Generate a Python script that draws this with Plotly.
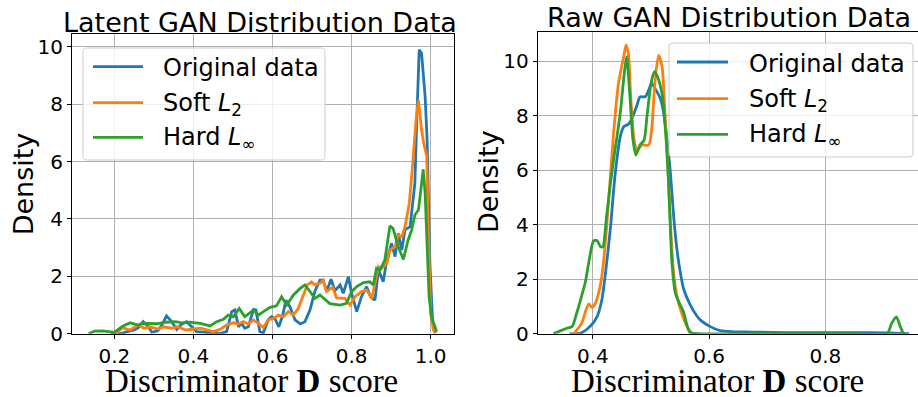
import plotly.graph_objects as go

# ---- Latent GAN distribution: KDE of discriminator scores ----
latent_orig_x = [0.19, 0.22, 0.24, 0.25, 0.26, 0.273, 0.286, 0.295, 0.31, 0.32, 0.332, 0.345, 0.358,
                 0.37, 0.383, 0.396, 0.408, 0.42, 0.434, 0.45, 0.467, 0.484, 0.497, 0.505, 0.514,
                 0.522, 0.53, 0.539, 0.552, 0.558, 0.568, 0.577, 0.589, 0.598, 0.606, 0.616, 0.626,
                 0.634, 0.644, 0.657, 0.67, 0.682, 0.695, 0.707, 0.72, 0.728, 0.737, 0.748, 0.758,
                 0.771, 0.779, 0.792, 0.8, 0.813, 0.825, 0.838, 0.848, 0.859, 0.868, 0.88, 0.889,
                 0.901, 0.91, 0.918, 0.927, 0.935, 0.948, 0.955, 0.96, 0.965, 0.971, 0.977, 0.986,
                 0.991, 0.998, 1.005, 1.012]
latent_orig_y = [0.0, 0.02, 0.1, 0.13, 0.2, 0.42, 0.24, 0.05, 0.1, 0.3, 0.62, 0.42, 0.15,
                 0.33, 0.42, 0.24, 0.07, 0.06, 0.03, 0.02, 0.0, 0.07, 0.77, 0.83, 0.24,
                 0.36, 0.19, 0.24, 0.85, 0.83, 0.07, 0.03, 0.48, 0.59, 0.53, 0.24, 0.65,
                 1.17, 0.94, 0.48, 0.34, 0.42, 0.83, 1.47, 1.87, 1.87, 1.47, 1.9, 1.5,
                 1.7, 1.41, 1.99, 1.41, 0.77, 1.29, 1.64, 1.29, 1.17, 2.22, 1.81, 2.57,
                 3.15, 2.69, 3.5, 2.92, 3.62, 3.73, 4.5, 5.24, 7.5, 9.9, 9.78, 8.27,
                 6.76, 2.46, 0.38, 0.03]

latent_soft_x = [0.205, 0.22, 0.24, 0.26, 0.275, 0.29, 0.31, 0.325, 0.345, 0.36, 0.38, 0.395, 0.417,
                 0.434, 0.45, 0.467, 0.484, 0.501, 0.514, 0.526, 0.539, 0.552, 0.564, 0.577, 0.589,
                 0.602, 0.615, 0.627, 0.64, 0.653, 0.665, 0.678, 0.688, 0.699, 0.707, 0.72, 0.728,
                 0.737, 0.745, 0.752, 0.762, 0.783, 0.796, 0.809, 0.825, 0.838, 0.851, 0.859, 0.868,
                 0.876, 0.889, 0.897, 0.91, 0.918, 0.927, 0.935, 0.946, 0.954, 0.963, 0.969, 0.977,
                 0.983, 0.99, 0.994, 1.0, 1.007, 1.012]
latent_soft_y = [0.0, 0.21, 0.13, 0.3, 0.19, 0.24, 0.16, 0.24, 0.19, 0.24, 0.13, 0.16, 0.19,
                 0.13, 0.07, 0.15, 0.3, 0.38, 0.34, 0.42, 0.34, 0.48, 0.36, 0.22, 0.48,
                 0.53, 0.65, 0.59, 0.77, 0.65, 0.88, 1.35, 1.7, 1.81, 1.7, 1.76, 1.87,
                 1.47, 1.55, 1.62, 1.25, 1.23, 1.0, 1.29, 1.47, 1.52, 1.23, 1.81, 2.34,
                 2.28, 2.45, 2.92, 3.03, 3.44, 3.38, 3.73, 4.55, 5.83, 7.45, 8.15, 7.1,
                 6.6, 6.2, 3.59, 0.71, 0.13, 0.0]

latent_hard_x = [0.135, 0.15, 0.17, 0.185, 0.2, 0.22, 0.24, 0.26, 0.27, 0.29, 0.31, 0.33, 0.355,
                 0.37, 0.39, 0.417, 0.442, 0.459, 0.476, 0.488, 0.501, 0.516, 0.53, 0.552, 0.564,
                 0.577, 0.594, 0.61, 0.623, 0.636, 0.653, 0.67, 0.682, 0.695, 0.707, 0.72, 0.745,
                 0.771, 0.787, 0.8, 0.813, 0.83, 0.846, 0.855, 0.863, 0.872, 0.884, 0.897, 0.905,
                 0.918, 0.931, 0.943, 0.952, 0.96, 0.969, 0.975, 0.981, 0.986, 0.996, 1.002, 1.015]
latent_hard_y = [0.0, 0.09, 0.1, 0.08, 0.05, 0.25, 0.38, 0.3, 0.35, 0.36, 0.35, 0.4, 0.42,
                 0.38, 0.4, 0.36, 0.27, 0.42, 0.5, 0.65, 0.59, 0.88, 0.59, 0.83, 0.65,
                 0.77, 0.92, 0.97, 1.29, 1.0, 1.35, 1.58, 1.7, 1.47, 1.23, 1.35, 1.05,
                 1.0, 1.06, 1.47, 1.64, 1.78, 1.81, 1.7, 2.28, 2.22, 2.57, 3.76, 3.67,
                 3.03, 2.59, 3.27, 3.62, 4.14, 4.31, 5.0, 5.73, 4.9, 1.29, 0.6, 0.07]

# ---- Raw GAN distribution ----
raw_orig_x = [0.36, 0.378, 0.395, 0.407, 0.415, 0.421, 0.43, 0.438, 0.447, 0.453, 0.461, 0.467,
              0.476, 0.481, 0.49, 0.496, 0.501, 0.507, 0.516, 0.521, 0.527, 0.533, 0.539, 0.544,
              0.55, 0.556, 0.567, 0.579, 0.585, 0.602, 0.619, 0.642, 0.676, 0.734, 0.791, 0.848,
              0.906, 0.944]
raw_orig_y = [0.0, 0.01, 0.26, 0.62, 1.2, 2.1, 3.85, 5.8, 7.23, 7.6, 7.69, 7.9,
              8.4, 8.7, 8.7, 8.95, 9.19, 9.0, 8.64, 8.2, 7.23, 6.0, 4.3, 3.2,
              2.3, 1.65, 1.08, 0.65, 0.5, 0.26, 0.11, 0.07, 0.06, 0.04, 0.04, 0.04,
              0.03, 0.0]

raw_soft_x = [0.367, 0.381, 0.389, 0.393, 0.398, 0.404, 0.413, 0.418, 0.425, 0.436, 0.444, 0.453,
              0.457, 0.461, 0.465, 0.471, 0.476, 0.484, 0.496, 0.501, 0.507, 0.513, 0.519, 0.524,
              0.53, 0.533, 0.539, 0.546, 0.553, 0.562, 0.57, 0.58]
raw_soft_y = [0.0, 0.4, 0.93, 1.09, 0.97, 1.11, 1.8, 2.58, 4.3, 7.48, 9.19, 10.17,
              10.6, 10.29, 8.7, 7.11, 6.74, 6.93, 6.93, 7.48, 9.3, 10.22, 9.8, 8.09,
              5.64, 4.2, 2.2, 1.24, 0.75, 0.26, 0.04, 0.0]

raw_hard_x = [0.332, 0.347, 0.355, 0.364, 0.372, 0.381, 0.387, 0.394, 0.401, 0.407, 0.413, 0.417,
              0.423, 0.43, 0.438, 0.447, 0.454, 0.458, 0.463, 0.469, 0.474, 0.481, 0.488, 0.493,
              0.5, 0.506, 0.511, 0.519, 0.524, 0.53, 0.534, 0.536, 0.542, 0.549, 0.556, 0.562,
              0.567, 0.58, 0.7, 0.85, 0.906, 0.914, 0.922, 0.929, 0.934]
raw_hard_y = [0.0, 0.13, 0.2, 0.26, 0.75, 1.42, 1.9, 2.75, 3.4, 3.42, 3.2, 3.19,
              4.2, 5.5, 6.74, 8.09, 9.56, 10.17, 8.94, 7.11, 6.56, 6.93, 7.11, 7.97,
              9.19, 9.62, 9.44, 8.81, 7.72, 5.64, 3.5, 2.6, 1.48, 1.11, 0.8, 0.3,
              0.04, 0.0, 0.0, 0.0, 0.0, 0.38, 0.62, 0.26, 0.0]

series_names = ["Original data", "Soft <i>L</i><sub>2</sub>", "Hard <i>L</i><sub>∞</sub>"]
series_colors = ["#1f77b4", "#ff7f0e", "#2ca02c"]
panel_titles = ["Latent GAN Distribution Data", "Raw GAN Distribution Data"]
x_label = "Discriminator <b>D</b> score"
y_label = "Density"
left_xticks = [0.2, 0.4, 0.6, 0.8, 1.0]
right_xticks = [0.4, 0.6, 0.8]
yticks = [0, 2, 4, 6, 8, 10]

W, H = 918, 397
SANS = "DejaVu Sans"
SERIF = "Liberation Serif"


def fx(p):
    return p / W


def fy(p):
    return 1 - p / H


fig = go.Figure()

panels = [
    ("x", "y", [(latent_orig_x, latent_orig_y), (latent_soft_x, latent_soft_y), (latent_hard_x, latent_hard_y)], "linear"),
    ("x2", "y2", [(raw_orig_x, raw_orig_y), (raw_soft_x, raw_soft_y), (raw_hard_x, raw_hard_y)], "spline"),
]
for xa, ya, curves, shape in panels:
    for (xs, ys), name, color in zip(curves, series_names, series_colors):
        fig.add_trace(go.Scatter(
            x=xs, y=ys, mode="lines", name=name, xaxis=xa, yaxis=ya,
            line=dict(color=color, width=2.8, shape=shape, smoothing=0.7),
            showlegend=False, hoverinfo="skip",
        ))

axis_common = dict(
    showgrid=True, gridcolor="#b0b0b0", gridwidth=1, zeroline=False,
    showline=True, linecolor="black", linewidth=1, automargin=False,
    ticks="outside", ticklen=4, tickwidth=1, tickcolor="black",
    tickfont=dict(family=SANS, size=20, color="black"),
)

fig.update_layout(
    width=W, height=H, margin=dict(l=0, r=0, t=0, b=0, autoexpand=False),
    paper_bgcolor="white", plot_bgcolor="white",
    xaxis=dict(domain=[fx(72), fx(454)], range=[0.093, 1.059], tickvals=left_xticks,
               ticktext=[f"{v:.1f}" for v in left_xticks], mirror=True, anchor="y", **axis_common),
    yaxis=dict(domain=[fy(333.7), fy(34)], range=[0, 10.45], tickvals=yticks,
               mirror=True, anchor="x", **axis_common),
    xaxis2=dict(domain=[fx(537.7), 1.0], range=[0.305, 0.9594], tickvals=right_xticks,
                ticktext=[f"{v:.1f}" for v in right_xticks], mirror=True, anchor="y2", **axis_common),
    yaxis2=dict(domain=[fy(333.7), fy(31.7)], range=[0, 11.09], tickvals=yticks,
                mirror=False, anchor="x2", **axis_common),
)

annotations = []
shapes = []

# panel titles
for text, cx, cy in [(panel_titles[0], 260, 22.5), (panel_titles[1], 728.5, 17.5)]:
    annotations.append(dict(text=text, x=fx(cx), y=fy(cy), xref="paper", yref="paper",
                            xanchor="center", yanchor="middle", showarrow=False,
                            font=dict(family=SANS, size=27, color="black")))

# axis labels
for cx in (251.5, 717):
    annotations.append(dict(text=x_label, x=fx(cx), y=fy(381), xref="paper", yref="paper",
                            xanchor="center", yanchor="middle", showarrow=False,
                            font=dict(family=SERIF, size=33, color="black")))
for cx, cy in ((23.3, 184), (489, 182)):
    annotations.append(dict(text=y_label, x=fx(cx), y=fy(cy), xref="paper", yref="paper",
                            xanchor="center", yanchor="middle", showarrow=False, textangle=-90,
                            font=dict(family=SANS, size=27, color="black")))


def rounded_box(x0, y0, x1, y1, r):
    pts = [
        ("M", [(x0 + r, y0)]), ("L", [(x1 - r, y0)]), ("Q", [(x1, y0), (x1, y0 + r)]),
        ("L", [(x1, y1 - r)]), ("Q", [(x1, y1), (x1 - r, y1)]), ("L", [(x0 + r, y1)]),
        ("Q", [(x0, y1), (x0, y1 - r)]), ("L", [(x0, y0 + r)]), ("Q", [(x0, y0), (x0 + r, y0)]),
    ]
    parts = []
    for cmd, coords in pts:
        parts.append(cmd + " " + " ".join(f"{fx(a):.5f},{fy(b):.5f}" for a, b in coords))
    return " ".join(parts) + " Z"


# legends: (box x0, y0, x1, y1, handle x0, handle x1, text x, row ys)
legend_specs = [
    (83, 48, 325, 160, 93, 143, 161, [66.7, 102.7, 137.3]),
    (669, 43, 913, 157, 677, 728, 747, [62, 98.7, 134.3]),
]
for bx0, by0, bx1, by1, hx0, hx1, tx, rows in legend_specs:
    shapes.append(dict(type="path", path=rounded_box(bx0, by0, bx1, by1, 4),
                       xref="paper", yref="paper", layer="above",
                       fillcolor="rgba(255,255,255,0.8)", line=dict(color="#cccccc", width=1)))
    for ry, name, color in zip(rows, series_names, series_colors):
        shapes.append(dict(type="line", x0=fx(hx0), x1=fx(hx1), y0=fy(ry), y1=fy(ry),
                           xref="paper", yref="paper", layer="above",
                           line=dict(color=color, width=2.8)))
        annotations.append(dict(text=name, x=fx(tx), y=fy(ry + 1.5), xref="paper", yref="paper",
                                xanchor="left", yanchor="middle", showarrow=False,
                                font=dict(family=SANS, size=24, color="black")))

fig.update_layout(annotations=annotations, shapes=shapes)
fig.write_html("out.html")
